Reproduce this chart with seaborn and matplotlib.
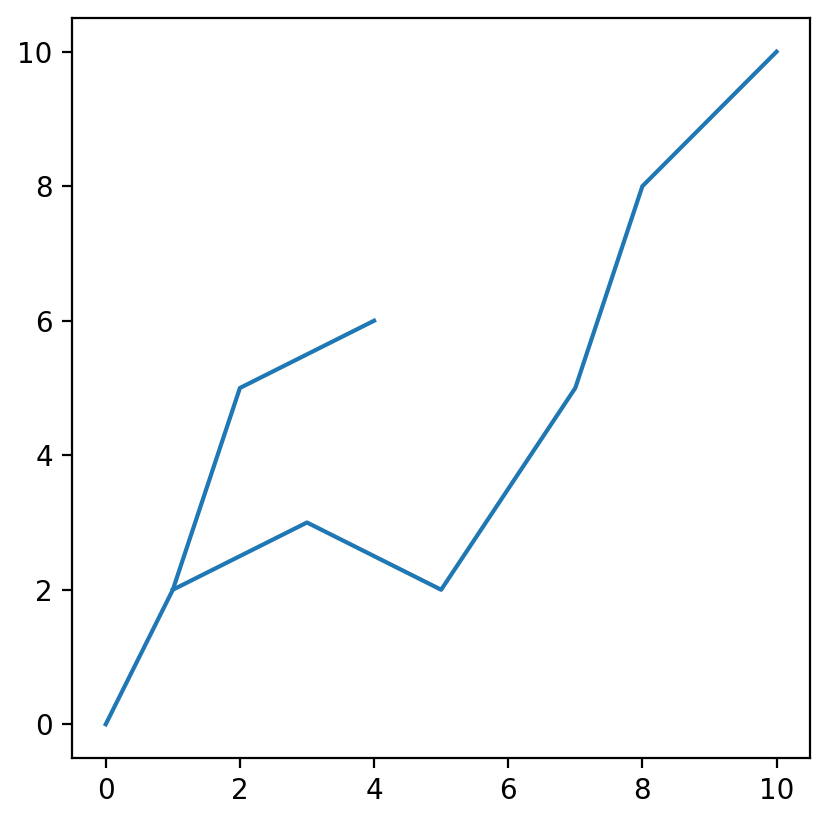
import matplotlib
matplotlib.use("Agg")
import matplotlib.pyplot as plt
import seaborn as sns

# two paths sharing the point (1, 2)
x_a = [0, 1, 2, 4]
y_a = [0, 2, 5, 6]
x_b = [1, 3, 5, 7, 8, 10]
y_b = [2, 3, 2, 5, 8, 10]

fig = plt.figure(figsize=(4.15, 4.11), dpi=200)
ax = fig.add_axes([0.087, 0.078, 0.889, 0.9])

sns.lineplot(x=x_a, y=y_a, ax=ax, color="C0", estimator=None, sort=False)
sns.lineplot(x=x_b, y=y_b, ax=ax, color="C0", estimator=None, sort=False)

ax.set_xticks([0, 2, 4, 6, 8, 10])
ax.set_yticks([0, 2, 4, 6, 8, 10])

fig.savefig("out.png", dpi=200)
